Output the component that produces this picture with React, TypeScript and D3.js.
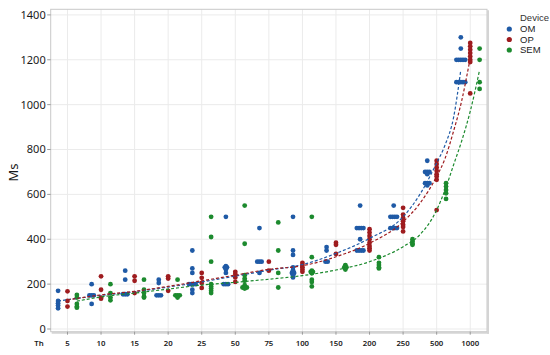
import * as d3 from "d3";

const WIDTH = 550;
const HEIGHT = 355;
const FRAME = { left: 50.7, top: 9.3, right: 487, bottom: 331.7 };

const CATEGORIES = ["5", "10", "15", "20", "25", "50", "75", "100", "150", "200", "250", "500", "1000"];
const DEVICES = ["OM", "OP", "SEM"];
const COLORS = ["#1f5aa6", "#9e1c1f", "#1c8a2e"];
const Y_TICKS = [0, 200, 400, 600, 800, 1000, 1200, 1400];

// Ms per Th category, one list per category
const OM_VALUES = [
  [170, 125, 115, 105, 92],
  [200, 150, 150, 150, 112],
  [260, 220, 155, 155, 155],
  [220, 205, 150, 150, 150],
  [350, 270, 250, 200, 200, 200, 200, 175, 160],
  [500, 280, 275, 275, 270, 265, 250, 200, 200, 200],
  [450, 300, 300, 300, 250],
  [500, 350, 330, 275, 262, 255, 250, 250, 245, 240, 230],
  [365, 350, 300, 300],
  [550, 450, 450, 450, 450, 400, 350, 350, 350, 350],
  [550, 500, 500, 500, 500, 450, 450, 450, 450],
  [750, 700, 700, 700, 690, 650, 650, 650, 640],
  [1300, 1250, 1200, 1200, 1200, 1200, 1200, 1100, 1100, 1100, 1100, 1100],
];

const OP_VALUES = [
  [168, 125, 100],
  [235, 175, 140, 135],
  [235, 215, 160],
  [235, 225, 170],
  [250, 228, 205, 183],
  [255, 245, 230, 210],
  [300, 260],
  [295, 285, 275, 265, 255],
  [385, 375, 335],
  [445, 430, 415, 400, 385, 370, 360, 350],
  [540, 510, 495, 480, 465, 455, 435],
  [750, 735, 720, 705, 690, 680, 665, 530],
  [1275, 1260, 1245, 1230, 1215, 1200, 1190, 1050],
];

const SEM_VALUES = [
  [152, 140, 112, 100, 95],
  [200, 160, 140, 128],
  [220, 175, 160, 145, 140],
  [220, 150, 150, 150, 140],
  [500, 410, 300, 200, 190, 180, 170, 160],
  [550, 380, 240, 225, 215, 195, 185, 185, 185, 180],
  [475, 350, 250, 185],
  [500, 320, 260, 255, 255, 250, 248, 220, 210, 190],
  [285, 280, 275, 275, 265],
  [320, 295, 285, 275, 270],
  [400, 390, 380, 375],
  [650, 635, 620, 605, 580],
  [1250, 1200, 1100, 1070],
];

// fitted trend, [category position, Ms]
const OM_FIT: [number, number][] = [
  [-0.28, 125], [1, 150], [2, 166], [3, 187], [4, 210], [5, 236], [6, 262], [7, 287],
  [8, 337], [9, 404], [10, 500], [10.5, 600], [11, 740], [11.25, 820], [11.5, 940], [11.72, 1155],
];
const OP_FIT: [number, number][] = [
  [0, 130], [1, 152], [2, 168], [3, 190], [4, 215], [5, 240], [6, 266], [7, 282],
  [8, 322], [9, 382], [10, 478], [10.5, 560], [11, 680], [11.25, 760], [11.5, 880], [11.75, 1020], [11.97, 1184],
];
const SEM_FIT: [number, number][] = [
  [0.28, 124], [1, 143], [2, 160], [3, 178], [4, 196], [5, 208], [6, 222], [7, 238],
  [8, 263], [9, 300], [10, 367], [10.5, 420], [11, 530], [11.25, 620], [11.5, 730], [11.75, 840], [12, 970], [12.28, 1155],
];

const SERIES = [OM_VALUES, OP_VALUES, SEM_VALUES];
const FITS = [OM_FIT, OP_FIT, SEM_FIT];
const DODGE = [-0.28, 0, 0.28];
const FONT = "'Noto Sans', 'Open Sans', sans-serif";
const LEGEND_FONT = "'Liberation Sans', Arial, sans-serif";

export default function App() {
  const x = d3
    .scaleLinear()
    .domain([-0.5, CATEGORIES.length - 0.5])
    .range([FRAME.left, FRAME.right]);
  const y = d3.scaleLinear().domain([-12, 1425]).range([FRAME.bottom, FRAME.top]);

  const line = d3
    .line<[number, number]>()
    .x((d) => x(d[0]))
    .y((d) => y(d[1]))
    .curve(d3.curveMonotoneX);

  const dots: JSX.Element[] = [];
  SERIES.forEach((series, di) => {
    series.forEach((vals, ci) => {
      const counts = d3.rollup(vals, (v) => v.length, (d) => d);
      const seen = new Map<number, number>();
      vals.forEach((v, i) => {
        const n = counts.get(v) ?? 1;
        const k = seen.get(v) ?? 0;
        seen.set(v, k + 1);
        dots.push(
          <circle
            key={`${di}-${ci}-${i}`}
            cx={x(ci + DODGE[di]) + (k - (n - 1) / 2) * 2.2}
            cy={y(v)}
            r={2.4}
            fill={COLORS[di]}
          />
        );
      });
    });
  });

  return (
    <svg
      width={WIDTH}
      height={HEIGHT}
      style={{ position: "absolute", left: 0, top: 0, background: "#fff" }}
      fontFamily={FONT}
    >
      {/* grid */}
      {CATEGORIES.map((c, i) => (
        <line key={c} x1={x(i)} x2={x(i)} y1={FRAME.top} y2={FRAME.bottom} stroke="#ebebeb" />
      ))}
      {Y_TICKS.map((t) => (
        <line key={t} x1={FRAME.left} x2={FRAME.right} y1={y(t)} y2={y(t)} stroke="#ebebeb" />
      ))}

      {/* frame */}
      <rect
        x={FRAME.left}
        y={FRAME.top}
        width={FRAME.right - FRAME.left}
        height={FRAME.bottom - FRAME.top}
        fill="none"
        stroke="#c9c9c9"
      />
      <line x1={FRAME.right + 1} x2={FRAME.right + 1} y1={FRAME.top + 1} y2={FRAME.bottom + 2} stroke="#d4d4d4" strokeWidth={2} />
      <line x1={FRAME.left + 1} x2={FRAME.right + 2} y1={FRAME.bottom + 1} y2={FRAME.bottom + 1} stroke="#d4d4d4" strokeWidth={2} />

      {/* y axis */}
      {Y_TICKS.map((t) => (
        <g key={t}>
          <line x1={FRAME.left - 3.5} x2={FRAME.left} y1={y(t)} y2={y(t)} stroke="#9a9a9a" />
          <text x={FRAME.left - 5} y={y(t)} dy="0.35em" textAnchor="end" fontSize={11} fill="#1a1a1a">
            {t}
          </text>
        </g>
      ))}
      <text
        transform={`translate(18,${(FRAME.top + FRAME.bottom) / 2 + 2}) rotate(-90)`}
        textAnchor="middle"
        fontSize={13}
        fill="#1a1a1a"
      >
        Ms
      </text>

      {/* x axis */}
      {CATEGORIES.map((c, i) => (
        <g key={c}>
          <line x1={x(i)} x2={x(i)} y1={FRAME.bottom} y2={FRAME.bottom + 3} stroke="#9a9a9a" />
          <text x={x(i)} y={FRAME.bottom + 14} textAnchor="middle" fontSize={7.8} fontWeight={600} fill="#1a1a1a">
            {c}
          </text>
        </g>
      ))}
      <text x={39} y={FRAME.bottom + 14} textAnchor="middle" fontSize={7.8} fontWeight={600} fill="#1a1a1a">
        Th
      </text>

      {/* points and fits */}
      {dots}
      {FITS.map((fit, di) => (
        <path
          key={di}
          d={line(fit) ?? ""}
          fill="none"
          stroke={COLORS[di]}
          strokeWidth={1.2}
          strokeDasharray="3 2"
        />
      ))}

      {/* legend */}
      <g fontFamily={LEGEND_FONT}>
        <text x={520} y={20.5} fontSize={9.5} fill="#333">
          Device
        </text>
        {DEVICES.map((d, i) => (
          <g key={d} transform={`translate(509.3,${29 + i * 10.5})`}>
            <circle r={2.6} fill={COLORS[i]} />
            <text x={10.7} dy="0.35em" fontSize={9.5} fill="#222">
              {d}
            </text>
          </g>
        ))}
      </g>
    </svg>
  );
}
